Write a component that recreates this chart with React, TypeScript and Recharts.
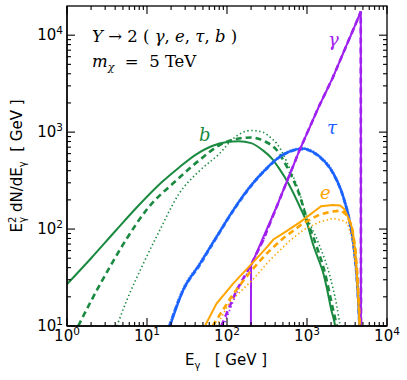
import React from "react";
import { LineChart, Line, XAxis, YAxis } from "recharts";

// spectra E^2 dN/dE [GeV] vs E [GeV]: [E, value]
const bSolid: [number, number][] = [
  [1, 27], [2, 50], [4, 95], [8, 178], [15, 300], [25, 430], [40, 580], [65, 720],
  [100, 790], [140, 805], [200, 770], [280, 650], [360, 540], [450, 420], [600, 285],
  [800, 175], [1000, 115], [1200, 68], [1400, 48], [1600, 35], [1800, 23], [2000, 15],
  [2250, 10], [2400, 7],
];
const bDashed: [number, number][] = [
  [1.38, 10], [2.13, 20], [3.45, 41], [5.6, 80], [10, 160], [23.5, 320], [46, 520],
  [80, 730], [130, 850], [200, 880], [300, 800], [420, 650], [560, 440], [700, 300],
  [820, 215], [1000, 125], [1320, 66], [1680, 35], [2040, 17], [2360, 10], [2500, 8],
];
const bDotted: [number, number][] = [
  [4.2, 10], [5.6, 18.5], [9, 44], [14.5, 98], [24.5, 224], [46, 404], [81, 603],
  [120, 860], [200, 1040], [280, 1000], [345, 890], [420, 760], [500, 600], [600, 430],
  [750, 280], [1000, 134], [1400, 71], [1950, 32], [2360, 16], [2600, 10], [2800, 7],
];

const tauSolid: [number, number][] = [
  [19.4, 10], [28.4, 23.5], [46, 44], [74, 83], [120, 157], [194, 273], [313, 423],
  [460, 560], [600, 630], [900, 676], [1200, 620], [1450, 556], [2130, 375], [2840, 215],
  [3450, 115], [3980, 52], [4250, 27.5], [4510, 10.6], [4600, 7],
];
const tauDashed: [number, number][] = [
  [19, 10], [28, 23], [46, 43], [74, 82], [120, 155], [194, 270], [313, 420],
  [460, 555], [600, 625], [900, 670], [1200, 615], [1450, 550], [2130, 372], [2840, 213],
  [3450, 113], [3980, 51], [4250, 27], [4530, 10.3], [4620, 7],
];
const tauDotted: [number, number][] = [
  [18.8, 10], [28, 24], [46, 45], [74, 85], [120, 160], [194, 278], [313, 430],
  [460, 565], [600, 640], [900, 685], [1200, 630], [1450, 565], [2130, 385], [2840, 222],
  [3450, 120], [3980, 56], [4300, 30], [4560, 11], [4650, 7],
];

const gamSolid: [number, number][] = [
  [198, 3], [200, 42], [280, 80], [420, 172], [800, 640], [1400, 1820], [2100, 3650],
  [3000, 7300], [4000, 12700], [4700, 17500], [4730, 3],
];
const gamDashed: [number, number][] = [
  [85, 10], [132, 23.5], [194, 41], [284, 77], [420, 172], [800, 640], [1400, 1820],
  [2100, 3650], [3000, 7300], [4000, 12700], [4700, 17500], [4740, 3],
];
const gamDotted: [number, number][] = [
  [90, 10], [135, 23], [194, 40], [284, 76], [420, 170], [800, 630], [1400, 1800],
  [2100, 3600], [3000, 7200], [4000, 12500], [4690, 17200], [4720, 3],
];

const eSolid: [number, number][] = [
  [53, 10], [74, 17], [120, 27.5], [194, 42], [300, 62], [380, 78], [520, 92], [820, 118],
  [1300, 157], [1500, 172], [2100, 177], [2600, 175], [2900, 162], [3300, 130],
  [3700, 100], [4000, 60], [4250, 30], [4450, 15], [4550, 10], [4650, 6],
];
const eDashed: [number, number][] = [
  [66, 10], [120, 21.5], [194, 36], [313, 56], [500, 80], [900, 115], [1450, 142],
  [2100, 152], [2700, 155], [3100, 140], [3600, 110], [4000, 66], [4250, 35], [4450, 18],
  [4550, 11], [4650, 6],
];
const eDotted: [number, number][] = [
  [74, 10], [110, 18], [210, 30], [345, 48], [600, 75], [900, 98], [1450, 119],
  [2130, 129], [2800, 122], [3200, 115], [3700, 77], [4100, 35], [4450, 13], [4550, 9],
];

const X_MAJOR = [1, 10, 100, 1000, 10000];
const X_MINOR = [2, 3, 4, 5, 6, 7, 8, 9, 20, 30, 40, 50, 60, 70, 80, 90, 200, 300, 400, 500,
  600, 700, 800, 900, 2000, 3000, 4000, 5000, 6000, 7000, 8000, 9000];
const Y_MAJOR = [10, 100, 1000, 10000];
const Y_MINOR = [20, 30, 40, 50, 60, 70, 80, 90, 200, 300, 400, 500, 600, 700, 800, 900,
  2000, 3000, 4000, 5000, 6000, 7000, 8000, 9000];

const GREEN = "#1a8a40";
const BLUE = "#1a62ff";
const PURPLE = "#a020f0";
const ORANGE = "#ffa500";

const W = 407;
const H = 380;
const TOP = 6;
const BOTTOM = 326;
const LEFT = 67;
const RIGHT = 387;
const FONT = "DejaVu Sans, sans-serif";
const SERIF = "DejaVu Serif, Liberation Serif, serif";

const X_DOMAIN: [number, number] = [1, 10000];
const Y_DOMAIN: [number, number] = [10, 20000];

// same log mapping as the axes, only used for the inward tick marks of the frame
const xPx = (e: number) =>
  LEFT + ((RIGHT - LEFT) * Math.log10(e / X_DOMAIN[0])) / Math.log10(X_DOMAIN[1] / X_DOMAIN[0]);
const yPx = (v: number) =>
  BOTTOM - ((BOTTOM - TOP) * Math.log10(v / Y_DOMAIN[0])) / Math.log10(Y_DOMAIN[1] / Y_DOMAIN[0]);

const toPts = (arr: [number, number][]) => arr.map(([e, v]) => ({ e, v }));

const exp = (v: number) => String(Math.round(Math.log10(v)));

const XLabel = (props: any) => {
  const { x, payload } = props;
  return (
    <text x={x} y={BOTTOM + 15} textAnchor="middle" fontFamily={FONT} fontSize={15} fill="#000">
      10<tspan dy={-6} fontSize={10.5}>{exp(payload.value)}</tspan>
    </text>
  );
};

const YLabel = (props: any) => {
  const { y, payload } = props;
  return (
    <text x={LEFT - 4} y={y + 5} textAnchor="end" fontFamily={FONT} fontSize={15} fill="#000">
      10<tspan dy={-6} fontSize={10.5}>{exp(payload.value)}</tspan>
    </text>
  );
};

const SOLID = { strokeWidth: 2 };
const DASHED = { strokeWidth: 2.6, strokeDasharray: "6 4" };
const DOTTED = { strokeWidth: 1.6, strokeDasharray: "1.4 2.6" };

const series = [
  { key: "bSolid", data: bSolid, color: GREEN, style: SOLID, type: "monotone" },
  { key: "bDashed", data: bDashed, color: GREEN, style: DASHED, type: "monotone" },
  { key: "bDotted", data: bDotted, color: GREEN, style: DOTTED, type: "monotone" },
  { key: "tauDotted", data: tauDotted, color: "#6b9bff", style: { strokeWidth: 2.2, strokeDasharray: "1.4 1.6" }, type: "monotone" },
  { key: "tauDashed", data: tauDashed, color: "#3f7dff", style: { strokeWidth: 2.8, strokeDasharray: "5 3" }, type: "monotone" },
  { key: "tauSolid", data: tauSolid, color: BLUE, style: { strokeWidth: 2.4 }, type: "monotone" },
  { key: "gamDotted", data: gamDotted, color: PURPLE, style: DOTTED, type: "linear" },
  { key: "gamDashed", data: gamDashed, color: PURPLE, style: DASHED, type: "linear" },
  { key: "gamSolid", data: gamSolid, color: PURPLE, style: SOLID, type: "linear" },
  { key: "eDotted", data: eDotted, color: ORANGE, style: DOTTED, type: "linear" },
  { key: "eDashed", data: eDashed, color: ORANGE, style: DASHED, type: "linear" },
  { key: "eSolid", data: eSolid, color: ORANGE, style: SOLID, type: "linear" },
];

const Frame = () => {
  const xt = [...X_MAJOR.map((v) => [v, 8]), ...X_MINOR.map((v) => [v, 4])];
  const yt = [...Y_MAJOR.map((v) => [v, 8]), ...Y_MINOR.map((v) => [v, 4])];
  return (
    <g stroke="#000" strokeWidth={1.1} fill="none">
      {xt.map(([v, len]) => (
        <g key={`x${v}`}>
          <line x1={xPx(v)} x2={xPx(v)} y1={BOTTOM} y2={BOTTOM - len} />
          <line x1={xPx(v)} x2={xPx(v)} y1={TOP} y2={TOP + len} />
        </g>
      ))}
      {yt.map(([v, len]) => (
        <g key={`y${v}`}>
          <line x1={LEFT} x2={LEFT + len} y1={yPx(v)} y2={yPx(v)} />
          <line x1={RIGHT} x2={RIGHT - len} y1={yPx(v)} y2={yPx(v)} />
        </g>
      ))}
      <rect x={LEFT} y={TOP} width={RIGHT - LEFT} height={BOTTOM - TOP} strokeWidth={1.3} />
    </g>
  );
};

export default function App() {
  return (
    <div style={{ position: "absolute", left: 0, top: 0, width: W, height: H, background: "#fff" }}>
      <LineChart width={W} height={H} margin={{ top: TOP, right: W - RIGHT, bottom: 0, left: 0 }}>
        <XAxis
          xAxisId="b"
          dataKey="e"
          type="number"
          scale="log"
          domain={X_DOMAIN}
          allowDataOverflow
          ticks={X_MAJOR}
          interval={0}
          height={H - BOTTOM}
          tick={(p: any) => <XLabel {...p} />}
          tickLine={false}
          axisLine={{ stroke: "#000", strokeWidth: 1.3 }}
        />
        <YAxis
          yAxisId="l"
          type="number"
          scale="log"
          domain={Y_DOMAIN}
          allowDataOverflow
          ticks={Y_MAJOR}
          interval={0}
          width={LEFT}
          tick={(p: any) => <YLabel {...p} />}
          tickLine={false}
          axisLine={{ stroke: "#000", strokeWidth: 1.3 }}
        />
        {series.map((s) => (
          <Line
            key={s.key}
            xAxisId="b"
            yAxisId="l"
            data={toPts(s.data)}
            dataKey="v"
            type={s.type as any}
            stroke={s.color}
            {...s.style}
            dot={false}
            activeDot={false}
            isAnimationActive={false}
          />
        ))}
      </LineChart>
      <svg
        width={W}
        height={H}
        style={{ position: "absolute", left: 0, top: 0, pointerEvents: "none" }}
      >
        <Frame />
        <text x={92} y={42} fontFamily={SERIF} fontSize={16.5} fill="#000" xmlSpace="preserve">
          <tspan fontStyle="italic">Y</tspan> → 2 ( <tspan fontStyle="italic">γ</tspan>,{" "}
          <tspan fontStyle="italic">e</tspan>, <tspan fontStyle="italic">τ</tspan>,{" "}
          <tspan fontStyle="italic">b</tspan> )
        </text>
        <text x={92} y={67} fontFamily={SERIF} fontSize={16.5} fill="#000" xmlSpace="preserve">
          <tspan fontStyle="italic">m</tspan>
          <tspan fontStyle="italic" fontSize={11} dy={4}>χ</tspan>
          <tspan dy={-4}>{"  =  5 TeV"}</tspan>
        </text>
        <text x={328} y={46} fontFamily={SERIF} fontStyle="italic" fontSize={18} fill={PURPLE}>γ</text>
        <text x={327} y={134} fontFamily={SERIF} fontStyle="italic" fontSize={18} fill={BLUE}>τ</text>
        <text x={320} y={199} fontFamily={SERIF} fontStyle="italic" fontSize={18} fill={ORANGE}>e</text>
        <text x={199} y={141} fontFamily={SERIF} fontStyle="italic" fontSize={18} fill={GREEN}>b</text>
        <text x={226} y={365} textAnchor="middle" fontFamily={FONT} fontSize={15} fill="#000" xmlSpace="preserve">
          E<tspan fontSize={10} dy={4}>γ</tspan>
          <tspan dy={-4}>{"   [ GeV ]"}</tspan>
        </text>
        <text
          transform={`translate(22, ${(TOP + BOTTOM) / 2}) rotate(-90)`}
          textAnchor="middle"
          fontFamily={FONT}
          fontSize={15}
          fill="#000"
          xmlSpace="preserve"
        >
          E<tspan fontSize={10} dy={-6}>2</tspan>
          <tspan fontSize={10} dx={-6} dy={10}>γ</tspan>
          <tspan dy={-4}> dN/dE</tspan>
          <tspan fontSize={10} dy={4}>γ</tspan>
          <tspan dy={-4}>{"  [ GeV ]"}</tspan>
        </text>
      </svg>
    </div>
  );
}
